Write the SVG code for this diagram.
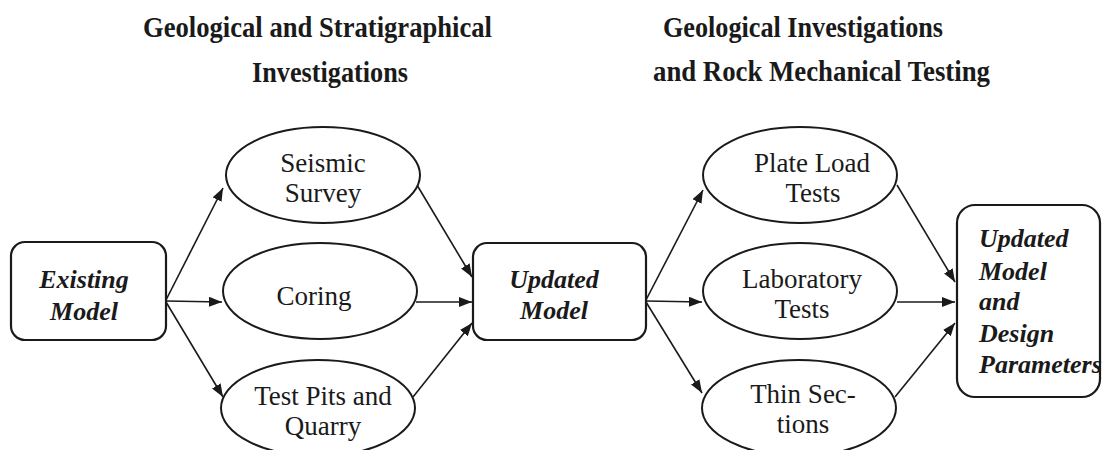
<svg xmlns="http://www.w3.org/2000/svg" width="1102" height="450" viewBox="0 0 1102 450">
<style>
.box{fill:#fff;stroke:#1a1a1a;stroke-width:2.2}
.ell{fill:#fff;stroke:#1a1a1a;stroke-width:2}
.conn{stroke:#1a1a1a;stroke-width:1.6;fill:none;marker-end:url(#arr)}
.title{font-family:"Liberation Serif",serif;font-weight:bold;font-size:29px;fill:#1a1a1a}
.bi{font-family:"Liberation Serif",serif;font-weight:bold;font-style:italic;font-size:26px;fill:#1a1a1a}
.lbl{font-family:"Liberation Serif",serif;font-size:27px;fill:#1a1a1a;text-anchor:middle}
</style>
<defs>
<marker id="arr" markerUnits="userSpaceOnUse" markerWidth="14" markerHeight="10" refX="13" refY="5" orient="auto">
<path d="M0,0 L13,5 L0,10 Z" fill="#1a1a1a"/>
</marker>
</defs>
<rect width="1102" height="450" fill="#fff"/>
<g id="titles">
<text class="title" x="143" y="37" textLength="349" lengthAdjust="spacingAndGlyphs">Geological and Stratigraphical</text>
<text class="title" x="252" y="82" textLength="156" lengthAdjust="spacingAndGlyphs">Investigations</text>
<text class="title" x="663" y="37" textLength="280" lengthAdjust="spacingAndGlyphs">Geological Investigations</text>
<text class="title" x="653" y="81" textLength="337" lengthAdjust="spacingAndGlyphs">and Rock Mechanical Testing</text>
</g>
<g id="connectors">
<line class="conn" x1="166" y1="300" x2="223" y2="188"/>
<line class="conn" x1="166" y1="301" x2="222" y2="302"/>
<line class="conn" x1="166" y1="302" x2="223" y2="397"/>
<line class="conn" x1="417" y1="185" x2="472" y2="277"/>
<line class="conn" x1="416" y1="302" x2="472" y2="302"/>
<line class="conn" x1="413" y1="397" x2="472" y2="323"/>
<line class="conn" x1="646" y1="300" x2="703" y2="190"/>
<line class="conn" x1="646" y1="301" x2="702" y2="302"/>
<line class="conn" x1="646" y1="302" x2="702" y2="393"/>
<line class="conn" x1="897" y1="185" x2="955" y2="282"/>
<line class="conn" x1="897" y1="302" x2="955" y2="302"/>
<line class="conn" x1="895" y1="397" x2="955" y2="323"/>
</g>
<g id="existing">
<rect class="box" x="11" y="242" width="155" height="98" rx="14"/>
<text class="bi" x="84" y="288" text-anchor="middle">Existing</text>
<text class="bi" x="84" y="320" text-anchor="middle">Model</text>
</g>
<g id="seismic">
<ellipse class="ell" cx="323" cy="175" rx="97" ry="48"/>
<text class="lbl" x="323" y="172">Seismic</text>
<text class="lbl" x="323" y="202">Survey</text>
</g>
<g id="coring">
<ellipse class="ell" cx="320" cy="291" rx="97" ry="48"/>
<text class="lbl" x="314" y="305">Coring</text>
</g>
<g id="testpits">
<ellipse class="ell" cx="318" cy="408" rx="97" ry="48"/>
<text class="lbl" x="323" y="405">Test Pits and</text>
<text class="lbl" x="323" y="435">Quarry</text>
</g>
<g id="updated">
<rect class="box" x="473" y="243" width="173" height="97" rx="14"/>
<text class="bi" x="554" y="288" text-anchor="middle">Updated</text>
<text class="bi" x="554" y="319" text-anchor="middle">Model</text>
</g>
<g id="plateload">
<ellipse class="ell" cx="800" cy="175" rx="97" ry="48"/>
<text class="lbl" x="812" y="172">Plate Load</text>
<text class="lbl" x="813" y="202">Tests</text>
</g>
<g id="laboratory">
<ellipse class="ell" cx="800" cy="291" rx="97" ry="48"/>
<text class="lbl" x="802" y="288">Laboratory</text>
<text class="lbl" x="802" y="318">Tests</text>
</g>
<g id="thinsections">
<ellipse class="ell" cx="799" cy="408" rx="97" ry="48"/>
<text class="lbl" x="803" y="403">Thin Sec-</text>
<text class="lbl" x="803" y="433">tions</text>
</g>
<g id="final">
<rect class="box" x="957" y="205" width="143" height="192" rx="18"/>
<text class="bi" x="979" y="247">Updated</text>
<text class="bi" x="979" y="280">Model</text>
<text class="bi" x="979" y="310">and</text>
<text class="bi" x="979" y="342">Design</text>
<text class="bi" x="979" y="373">Parameters</text>
</g>
</svg>
